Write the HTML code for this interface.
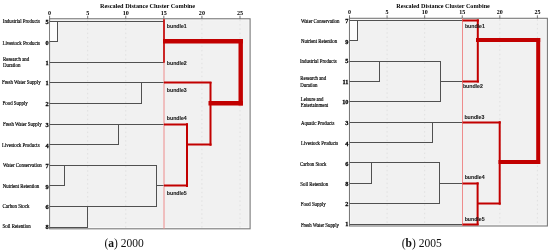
<!DOCTYPE html>
<html><head><meta charset="utf-8"><style>
html,body{margin:0;padding:0;background:#fff;width:550px;height:252px;overflow:hidden}
svg{display:block}
svg{will-change:transform}
</style></head><body>
<svg width="550" height="252" viewBox="0 0 550 252">
<defs><clipPath id="cl"><rect x="44.9" y="0" width="10" height="252"/></clipPath><clipPath id="cr"><rect x="300" y="0" width="60" height="252"/></clipPath></defs>
<rect x="49.6" y="18.75" width="200.5" height="210.05" fill="#f1f1f1"/>
<rect x="50.6" y="19.75" width="198.5" height="208.05" fill="none" stroke="#fbfbfb" stroke-width="1"/>
<line x1="87.68" y1="19.75" x2="87.68" y2="227.8" stroke="#e0e0e0" stroke-width="1" stroke-dasharray="1.5,2.8"/>
<line x1="125.76" y1="19.75" x2="125.76" y2="227.8" stroke="#e0e0e0" stroke-width="1" stroke-dasharray="1.5,2.8"/>
<line x1="201.92" y1="19.75" x2="201.92" y2="227.8" stroke="#e0e0e0" stroke-width="1" stroke-dasharray="1.5,2.8"/>
<line x1="240.00" y1="19.75" x2="240.00" y2="227.8" stroke="#e0e0e0" stroke-width="1" stroke-dasharray="1.5,2.8"/>
<rect x="49.6" y="18.75" width="200.5" height="210.05" fill="none" stroke="#7a7a7a" stroke-width="1.1"/>
<line x1="49.60" y1="15.75" x2="49.60" y2="18.75" stroke="#505050" stroke-width="0.8"/>
<text x="49.60" y="14.90" font-family="Liberation Serif" font-size="6.1" font-weight="bold" text-anchor="middle" fill="#000">0</text>
<line x1="87.68" y1="15.75" x2="87.68" y2="18.75" stroke="#505050" stroke-width="0.8"/>
<text x="87.68" y="14.90" font-family="Liberation Serif" font-size="6.1" font-weight="bold" text-anchor="middle" fill="#000">5</text>
<line x1="125.76" y1="15.75" x2="125.76" y2="18.75" stroke="#505050" stroke-width="0.8"/>
<text x="125.76" y="14.90" font-family="Liberation Serif" font-size="6.1" font-weight="bold" text-anchor="middle" fill="#000">10</text>
<line x1="163.84" y1="15.75" x2="163.84" y2="18.75" stroke="#505050" stroke-width="0.8"/>
<text x="163.84" y="14.90" font-family="Liberation Serif" font-size="6.1" font-weight="bold" text-anchor="middle" fill="#000">15</text>
<line x1="201.92" y1="15.75" x2="201.92" y2="18.75" stroke="#505050" stroke-width="0.8"/>
<text x="201.92" y="14.90" font-family="Liberation Serif" font-size="6.1" font-weight="bold" text-anchor="middle" fill="#000">20</text>
<line x1="240.00" y1="15.75" x2="240.00" y2="18.75" stroke="#505050" stroke-width="0.8"/>
<text x="240.00" y="14.90" font-family="Liberation Serif" font-size="6.1" font-weight="bold" text-anchor="middle" fill="#000">25</text>
<text transform="translate(100.00,7.75) scale(1,1.08)" font-family="Liberation Serif" font-size="6.25" font-weight="bold" text-anchor="start" fill="#000">Rescaled Distance Cluster Combine</text>
<text transform="translate(2.80,23.10) scale(1,1.12)" font-family="Liberation Serif" font-size="4.9" font-weight="normal" text-anchor="start" fill="#000" stroke="#000" stroke-width="0.15">Industrial Products</text>
<g clip-path="url(#cl)"><text transform="translate(48.70,23.60) scale(1,1.06)" font-family="Liberation Serif" font-size="6.3" font-weight="bold" text-anchor="end" fill="#000" stroke="#000" stroke-width="0.25">5</text></g>
<text transform="translate(2.40,45.00) scale(1,1.12)" font-family="Liberation Serif" font-size="4.9" font-weight="normal" text-anchor="start" fill="#000" stroke="#000" stroke-width="0.15">Livestock Products</text>
<g clip-path="url(#cl)"><text transform="translate(48.70,44.50) scale(1,1.06)" font-family="Liberation Serif" font-size="6.3" font-weight="bold" text-anchor="end" fill="#000" stroke="#000" stroke-width="0.25">0</text></g>
<text transform="translate(3.00,60.80) scale(1,1.12)" font-family="Liberation Serif" font-size="4.9" font-weight="normal" text-anchor="start" fill="#000" stroke="#000" stroke-width="0.15">Research and</text>
<text transform="translate(3.00,66.80) scale(1,1.12)" font-family="Liberation Serif" font-size="4.9" font-weight="normal" text-anchor="start" fill="#000" stroke="#000" stroke-width="0.15">Duration</text>
<g clip-path="url(#cl)"><text transform="translate(48.70,64.70) scale(1,1.06)" font-family="Liberation Serif" font-size="6.3" font-weight="bold" text-anchor="end" fill="#000" stroke="#000" stroke-width="0.25">1</text></g>
<text transform="translate(2.00,84.40) scale(1,1.12)" font-family="Liberation Serif" font-size="4.9" font-weight="normal" text-anchor="start" fill="#000" stroke="#000" stroke-width="0.15">Fresh Water Supply</text>
<g clip-path="url(#cl)"><text transform="translate(48.70,85.10) scale(1,1.06)" font-family="Liberation Serif" font-size="6.3" font-weight="bold" text-anchor="end" fill="#000" stroke="#000" stroke-width="0.25">1</text></g>
<text transform="translate(2.60,105.00) scale(1,1.12)" font-family="Liberation Serif" font-size="4.9" font-weight="normal" text-anchor="start" fill="#000" stroke="#000" stroke-width="0.15">Food Supply</text>
<g clip-path="url(#cl)"><text transform="translate(48.70,106.00) scale(1,1.06)" font-family="Liberation Serif" font-size="6.3" font-weight="bold" text-anchor="end" fill="#000" stroke="#000" stroke-width="0.25">2</text></g>
<text transform="translate(3.00,126.40) scale(1,1.12)" font-family="Liberation Serif" font-size="4.9" font-weight="normal" text-anchor="start" fill="#000" stroke="#000" stroke-width="0.15">Fresh Water Supply</text>
<g clip-path="url(#cl)"><text transform="translate(48.70,126.80) scale(1,1.06)" font-family="Liberation Serif" font-size="6.3" font-weight="bold" text-anchor="end" fill="#000" stroke="#000" stroke-width="0.25">3</text></g>
<text transform="translate(2.00,147.10) scale(1,1.12)" font-family="Liberation Serif" font-size="4.9" font-weight="normal" text-anchor="start" fill="#000" stroke="#000" stroke-width="0.15">Livestock Products</text>
<g clip-path="url(#cl)"><text transform="translate(48.70,147.50) scale(1,1.06)" font-family="Liberation Serif" font-size="6.3" font-weight="bold" text-anchor="end" fill="#000" stroke="#000" stroke-width="0.25">4</text></g>
<text transform="translate(3.00,167.10) scale(1,1.12)" font-family="Liberation Serif" font-size="4.9" font-weight="normal" text-anchor="start" fill="#000" stroke="#000" stroke-width="0.15">Water Conservation</text>
<g clip-path="url(#cl)"><text transform="translate(48.70,167.80) scale(1,1.06)" font-family="Liberation Serif" font-size="6.3" font-weight="bold" text-anchor="end" fill="#000" stroke="#000" stroke-width="0.25">7</text></g>
<text transform="translate(2.80,188.10) scale(1,1.12)" font-family="Liberation Serif" font-size="4.9" font-weight="normal" text-anchor="start" fill="#000" stroke="#000" stroke-width="0.15">Nutrient Retention</text>
<g clip-path="url(#cl)"><text transform="translate(48.70,188.50) scale(1,1.06)" font-family="Liberation Serif" font-size="6.3" font-weight="bold" text-anchor="end" fill="#000" stroke="#000" stroke-width="0.25">9</text></g>
<text transform="translate(2.60,207.60) scale(1,1.12)" font-family="Liberation Serif" font-size="4.9" font-weight="normal" text-anchor="start" fill="#000" stroke="#000" stroke-width="0.15">Carbon Stock</text>
<g clip-path="url(#cl)"><text transform="translate(48.70,209.20) scale(1,1.06)" font-family="Liberation Serif" font-size="6.3" font-weight="bold" text-anchor="end" fill="#000" stroke="#000" stroke-width="0.25">6</text></g>
<text transform="translate(2.60,227.70) scale(1,1.12)" font-family="Liberation Serif" font-size="4.9" font-weight="normal" text-anchor="start" fill="#000" stroke="#000" stroke-width="0.15">Soil Retention</text>
<g clip-path="url(#cl)"><text transform="translate(48.70,229.40) scale(1,1.06)" font-family="Liberation Serif" font-size="6.3" font-weight="bold" text-anchor="end" fill="#000" stroke="#000" stroke-width="0.25">8</text></g>
<rect x="50.1" y="21.15" width="7.100000000000001" height="20.6" fill="#fcfcfc"/>
<line x1="49.60" y1="21.50" x2="164.00" y2="21.50" stroke="#505050" stroke-width="1"/>
<line x1="49.60" y1="41.50" x2="57.20" y2="41.50" stroke="#505050" stroke-width="1"/>
<line x1="57.50" y1="21.00" x2="57.50" y2="42.00" stroke="#505050" stroke-width="1"/>
<line x1="49.60" y1="62.50" x2="164.00" y2="62.50" stroke="#505050" stroke-width="1"/>
<line x1="49.60" y1="82.50" x2="164.00" y2="82.50" stroke="#505050" stroke-width="1"/>
<line x1="49.60" y1="103.50" x2="141.10" y2="103.50" stroke="#505050" stroke-width="1"/>
<line x1="141.50" y1="82.00" x2="141.50" y2="104.00" stroke="#505050" stroke-width="1"/>
<line x1="49.60" y1="124.50" x2="164.00" y2="124.50" stroke="#505050" stroke-width="1"/>
<line x1="49.60" y1="144.50" x2="118.20" y2="144.50" stroke="#505050" stroke-width="1"/>
<line x1="118.50" y1="124.00" x2="118.50" y2="145.00" stroke="#505050" stroke-width="1"/>
<line x1="49.60" y1="165.50" x2="156.30" y2="165.50" stroke="#505050" stroke-width="1"/>
<line x1="49.60" y1="185.50" x2="64.80" y2="185.50" stroke="#505050" stroke-width="1"/>
<line x1="64.50" y1="165.00" x2="64.50" y2="186.00" stroke="#505050" stroke-width="1"/>
<line x1="49.60" y1="206.50" x2="156.30" y2="206.50" stroke="#505050" stroke-width="1"/>
<line x1="49.60" y1="227.50" x2="87.40" y2="227.50" stroke="#505050" stroke-width="1"/>
<line x1="87.50" y1="206.00" x2="87.50" y2="228.00" stroke="#505050" stroke-width="1"/>
<line x1="156.50" y1="165.00" x2="156.50" y2="207.00" stroke="#505050" stroke-width="1"/>
<line x1="156.30" y1="185.50" x2="164.00" y2="185.50" stroke="#505050" stroke-width="1"/>
<line x1="164.00" y1="18.75" x2="164.00" y2="228.80" stroke="#ee8c8c" stroke-width="1"/>
<line x1="164.00" y1="19.30" x2="164.00" y2="62.85" stroke="#c20000" stroke-width="1.6"/>
<line x1="163.00" y1="41.30" x2="242.90" y2="41.30" stroke="#c20000" stroke-width="4.4"/>
<line x1="240.70" y1="39.10" x2="240.70" y2="105.40" stroke="#c20000" stroke-width="4.4"/>
<line x1="208.50" y1="103.20" x2="242.90" y2="103.20" stroke="#c20000" stroke-width="4.4"/>
<line x1="164.00" y1="82.50" x2="211.50" y2="82.50" stroke="#c20000" stroke-width="2"/>
<line x1="210.50" y1="81.95" x2="210.50" y2="145.75" stroke="#c20000" stroke-width="2"/>
<line x1="164.00" y1="124.50" x2="188.00" y2="124.50" stroke="#c20000" stroke-width="2"/>
<line x1="187.00" y1="123.15" x2="187.00" y2="186.95" stroke="#c20000" stroke-width="2"/>
<line x1="164.00" y1="185.50" x2="188.00" y2="185.50" stroke="#c20000" stroke-width="2"/>
<line x1="187.00" y1="144.50" x2="211.50" y2="144.50" stroke="#c20000" stroke-width="2"/>
<text transform="translate(166.80,27.60) scale(1,1.06)" font-family="Liberation Sans" font-size="5.2" font-weight="bold" text-anchor="start" fill="#1a1a1a" stroke="#1a1a1a" stroke-width="0.08">bundle1</text>
<text transform="translate(166.80,64.60) scale(1,1.06)" font-family="Liberation Sans" font-size="5.2" font-weight="bold" text-anchor="start" fill="#1a1a1a" stroke="#1a1a1a" stroke-width="0.08">bundle2</text>
<text transform="translate(166.80,91.60) scale(1,1.06)" font-family="Liberation Sans" font-size="5.2" font-weight="bold" text-anchor="start" fill="#1a1a1a" stroke="#1a1a1a" stroke-width="0.08">bundle3</text>
<text transform="translate(166.80,119.60) scale(1,1.06)" font-family="Liberation Sans" font-size="5.2" font-weight="bold" text-anchor="start" fill="#1a1a1a" stroke="#1a1a1a" stroke-width="0.08">bundle4</text>
<text transform="translate(166.80,194.80) scale(1,1.06)" font-family="Liberation Sans" font-size="5.2" font-weight="bold" text-anchor="start" fill="#1a1a1a" stroke="#1a1a1a" stroke-width="0.08">bundle5</text>
<rect x="349.5" y="18.3" width="197.89999999999998" height="207.7" fill="#f1f1f1"/>
<rect x="350.5" y="19.3" width="195.89999999999998" height="205.7" fill="none" stroke="#fbfbfb" stroke-width="1"/>
<line x1="387.08" y1="19.3" x2="387.08" y2="225" stroke="#e0e0e0" stroke-width="1" stroke-dasharray="1.5,2.8"/>
<line x1="424.66" y1="19.3" x2="424.66" y2="225" stroke="#e0e0e0" stroke-width="1" stroke-dasharray="1.5,2.8"/>
<line x1="499.82" y1="19.3" x2="499.82" y2="225" stroke="#e0e0e0" stroke-width="1" stroke-dasharray="1.5,2.8"/>
<line x1="537.40" y1="19.3" x2="537.40" y2="225" stroke="#e0e0e0" stroke-width="1" stroke-dasharray="1.5,2.8"/>
<rect x="349.5" y="18.3" width="197.89999999999998" height="207.7" fill="none" stroke="#7a7a7a" stroke-width="1.1"/>
<line x1="349.50" y1="15.30" x2="349.50" y2="18.30" stroke="#505050" stroke-width="0.8"/>
<text x="349.50" y="13.90" font-family="Liberation Serif" font-size="6.0" font-weight="bold" text-anchor="middle" fill="#000">0</text>
<line x1="387.08" y1="15.30" x2="387.08" y2="18.30" stroke="#505050" stroke-width="0.8"/>
<text x="387.08" y="13.90" font-family="Liberation Serif" font-size="6.0" font-weight="bold" text-anchor="middle" fill="#000">5</text>
<line x1="424.66" y1="15.30" x2="424.66" y2="18.30" stroke="#505050" stroke-width="0.8"/>
<text x="424.66" y="13.90" font-family="Liberation Serif" font-size="6.0" font-weight="bold" text-anchor="middle" fill="#000">10</text>
<line x1="462.24" y1="15.30" x2="462.24" y2="18.30" stroke="#505050" stroke-width="0.8"/>
<text x="462.24" y="13.90" font-family="Liberation Serif" font-size="6.0" font-weight="bold" text-anchor="middle" fill="#000">15</text>
<line x1="499.82" y1="15.30" x2="499.82" y2="18.30" stroke="#505050" stroke-width="0.8"/>
<text x="499.82" y="13.90" font-family="Liberation Serif" font-size="6.0" font-weight="bold" text-anchor="middle" fill="#000">20</text>
<line x1="537.40" y1="15.30" x2="537.40" y2="18.30" stroke="#505050" stroke-width="0.8"/>
<text x="537.40" y="13.90" font-family="Liberation Serif" font-size="6.0" font-weight="bold" text-anchor="middle" fill="#000">25</text>
<text transform="translate(396.30,7.70) scale(1,1.1)" font-family="Liberation Serif" font-size="6.15" font-weight="bold" text-anchor="start" fill="#000">Rescaled Distance Cluster Combine</text>
<text transform="translate(301.00,23.10) scale(1,1.12)" font-family="Liberation Serif" font-size="4.85" font-weight="normal" text-anchor="start" fill="#000" stroke="#000" stroke-width="0.15">Water Conservation</text>
<g clip-path="url(#cr)"><text transform="translate(348.50,23.10) scale(1,1.06)" font-family="Liberation Serif" font-size="6.3" font-weight="bold" text-anchor="end" fill="#000" stroke="#000" stroke-width="0.25">7</text></g>
<text transform="translate(301.00,43.00) scale(1,1.12)" font-family="Liberation Serif" font-size="4.85" font-weight="normal" text-anchor="start" fill="#000" stroke="#000" stroke-width="0.15">Nutrient Retention</text>
<g clip-path="url(#cr)"><text transform="translate(348.50,43.60) scale(1,1.06)" font-family="Liberation Serif" font-size="6.3" font-weight="bold" text-anchor="end" fill="#000" stroke="#000" stroke-width="0.25">9</text></g>
<text transform="translate(300.00,63.00) scale(1,1.12)" font-family="Liberation Serif" font-size="4.85" font-weight="normal" text-anchor="start" fill="#000" stroke="#000" stroke-width="0.15">Industrial Products</text>
<g clip-path="url(#cr)"><text transform="translate(348.50,63.30) scale(1,1.06)" font-family="Liberation Serif" font-size="6.3" font-weight="bold" text-anchor="end" fill="#000" stroke="#000" stroke-width="0.25">5</text></g>
<text transform="translate(300.30,80.40) scale(1,1.12)" font-family="Liberation Serif" font-size="4.85" font-weight="normal" text-anchor="start" fill="#000" stroke="#000" stroke-width="0.15">Research and</text>
<text transform="translate(300.30,86.70) scale(1,1.12)" font-family="Liberation Serif" font-size="4.85" font-weight="normal" text-anchor="start" fill="#000" stroke="#000" stroke-width="0.15">Duration</text>
<g clip-path="url(#cr)"><text transform="translate(348.50,83.60) scale(1,1.06)" font-family="Liberation Serif" font-size="6.3" font-weight="bold" text-anchor="end" fill="#000" stroke="#000" stroke-width="0.25">11</text></g>
<text transform="translate(300.80,101.10) scale(1,1.12)" font-family="Liberation Serif" font-size="4.85" font-weight="normal" text-anchor="start" fill="#000" stroke="#000" stroke-width="0.15">Leisure and</text>
<text transform="translate(300.80,107.30) scale(1,1.12)" font-family="Liberation Serif" font-size="4.85" font-weight="normal" text-anchor="start" fill="#000" stroke="#000" stroke-width="0.15">Entertainment</text>
<g clip-path="url(#cr)"><text transform="translate(348.50,103.90) scale(1,1.06)" font-family="Liberation Serif" font-size="6.3" font-weight="bold" text-anchor="end" fill="#000" stroke="#000" stroke-width="0.25">10</text></g>
<text transform="translate(301.00,124.70) scale(1,1.12)" font-family="Liberation Serif" font-size="4.85" font-weight="normal" text-anchor="start" fill="#000" stroke="#000" stroke-width="0.15">Aquatic Products</text>
<g clip-path="url(#cr)"><text transform="translate(348.50,124.90) scale(1,1.06)" font-family="Liberation Serif" font-size="6.3" font-weight="bold" text-anchor="end" fill="#000" stroke="#000" stroke-width="0.25">3</text></g>
<text transform="translate(301.00,145.40) scale(1,1.12)" font-family="Liberation Serif" font-size="4.85" font-weight="normal" text-anchor="start" fill="#000" stroke="#000" stroke-width="0.15">Livestock Products</text>
<g clip-path="url(#cr)"><text transform="translate(348.50,145.60) scale(1,1.06)" font-family="Liberation Serif" font-size="6.3" font-weight="bold" text-anchor="end" fill="#000" stroke="#000" stroke-width="0.25">4</text></g>
<text transform="translate(300.00,165.50) scale(1,1.12)" font-family="Liberation Serif" font-size="4.85" font-weight="normal" text-anchor="start" fill="#000" stroke="#000" stroke-width="0.15">Carbon Stock</text>
<g clip-path="url(#cr)"><text transform="translate(348.50,165.60) scale(1,1.06)" font-family="Liberation Serif" font-size="6.3" font-weight="bold" text-anchor="end" fill="#000" stroke="#000" stroke-width="0.25">6</text></g>
<text transform="translate(300.30,185.60) scale(1,1.12)" font-family="Liberation Serif" font-size="4.85" font-weight="normal" text-anchor="start" fill="#000" stroke="#000" stroke-width="0.15">Soil Retention</text>
<g clip-path="url(#cr)"><text transform="translate(348.50,185.90) scale(1,1.06)" font-family="Liberation Serif" font-size="6.3" font-weight="bold" text-anchor="end" fill="#000" stroke="#000" stroke-width="0.25">8</text></g>
<text transform="translate(300.80,205.90) scale(1,1.12)" font-family="Liberation Serif" font-size="4.85" font-weight="normal" text-anchor="start" fill="#000" stroke="#000" stroke-width="0.15">Food Supply</text>
<g clip-path="url(#cr)"><text transform="translate(348.50,205.90) scale(1,1.06)" font-family="Liberation Serif" font-size="6.3" font-weight="bold" text-anchor="end" fill="#000" stroke="#000" stroke-width="0.25">2</text></g>
<text transform="translate(300.90,226.90) scale(1,1.12)" font-family="Liberation Serif" font-size="4.85" font-weight="normal" text-anchor="start" fill="#000" stroke="#000" stroke-width="0.15">Fresh Water Supply</text>
<g clip-path="url(#cr)"><text transform="translate(348.50,225.90) scale(1,1.06)" font-family="Liberation Serif" font-size="6.3" font-weight="bold" text-anchor="end" fill="#000" stroke="#000" stroke-width="0.25">1</text></g>
<rect x="350" y="20.35" width="7" height="20.369999999999997" fill="#fcfcfc"/>
<line x1="349.50" y1="20.50" x2="462.50" y2="20.50" stroke="#505050" stroke-width="1"/>
<line x1="349.50" y1="40.50" x2="357.00" y2="40.50" stroke="#505050" stroke-width="1"/>
<line x1="357.50" y1="20.00" x2="357.50" y2="41.00" stroke="#505050" stroke-width="1"/>
<line x1="349.50" y1="61.50" x2="440.00" y2="61.50" stroke="#505050" stroke-width="1"/>
<line x1="349.50" y1="81.50" x2="379.50" y2="81.50" stroke="#505050" stroke-width="1"/>
<line x1="379.50" y1="61.00" x2="379.50" y2="82.00" stroke="#505050" stroke-width="1"/>
<line x1="349.50" y1="101.50" x2="440.00" y2="101.50" stroke="#505050" stroke-width="1"/>
<line x1="440.50" y1="61.00" x2="440.50" y2="102.00" stroke="#505050" stroke-width="1"/>
<line x1="440.00" y1="81.50" x2="462.50" y2="81.50" stroke="#505050" stroke-width="1"/>
<line x1="349.50" y1="122.50" x2="462.50" y2="122.50" stroke="#505050" stroke-width="1"/>
<line x1="349.50" y1="142.50" x2="432.40" y2="142.50" stroke="#505050" stroke-width="1"/>
<line x1="432.50" y1="122.00" x2="432.50" y2="143.00" stroke="#505050" stroke-width="1"/>
<line x1="349.50" y1="162.50" x2="439.10" y2="162.50" stroke="#505050" stroke-width="1"/>
<line x1="349.50" y1="183.50" x2="371.80" y2="183.50" stroke="#505050" stroke-width="1"/>
<line x1="371.50" y1="162.00" x2="371.50" y2="184.00" stroke="#505050" stroke-width="1"/>
<line x1="349.50" y1="203.50" x2="439.10" y2="203.50" stroke="#505050" stroke-width="1"/>
<line x1="439.50" y1="162.00" x2="439.50" y2="204.00" stroke="#505050" stroke-width="1"/>
<line x1="439.10" y1="183.50" x2="462.50" y2="183.50" stroke="#505050" stroke-width="1"/>
<line x1="349.50" y1="224.50" x2="462.50" y2="224.50" stroke="#505050" stroke-width="1"/>
<line x1="462.50" y1="18.30" x2="462.50" y2="226.00" stroke="#ee8c8c" stroke-width="1"/>
<line x1="462.50" y1="20.50" x2="479.00" y2="20.50" stroke="#c20000" stroke-width="2"/>
<line x1="477.80" y1="19.35" x2="477.80" y2="82.46" stroke="#c20000" stroke-width="2"/>
<line x1="462.50" y1="81.50" x2="479.00" y2="81.50" stroke="#c20000" stroke-width="2"/>
<line x1="476.00" y1="40.00" x2="540.20" y2="40.00" stroke="#c20000" stroke-width="4.0"/>
<line x1="538.20" y1="38.00" x2="538.20" y2="164.00" stroke="#c20000" stroke-width="4.0"/>
<line x1="498.50" y1="162.00" x2="540.20" y2="162.00" stroke="#c20000" stroke-width="4.0"/>
<line x1="462.50" y1="122.50" x2="500.70" y2="122.50" stroke="#c20000" stroke-width="2"/>
<line x1="499.70" y1="121.20" x2="499.70" y2="204.68" stroke="#c20000" stroke-width="2"/>
<line x1="477.60" y1="203.50" x2="500.70" y2="203.50" stroke="#c20000" stroke-width="2"/>
<line x1="462.50" y1="183.50" x2="478.60" y2="183.50" stroke="#c20000" stroke-width="2"/>
<line x1="477.60" y1="182.31" x2="477.60" y2="225.05" stroke="#c20000" stroke-width="2"/>
<line x1="462.50" y1="224.50" x2="478.60" y2="224.50" stroke="#c20000" stroke-width="2"/>
<text transform="translate(464.90,28.30) scale(1,1.06)" font-family="Liberation Sans" font-size="5.2" font-weight="bold" text-anchor="start" fill="#1a1a1a" stroke="#1a1a1a" stroke-width="0.08">bundle1</text>
<text transform="translate(462.90,88.40) scale(1,1.06)" font-family="Liberation Sans" font-size="5.2" font-weight="bold" text-anchor="start" fill="#1a1a1a" stroke="#1a1a1a" stroke-width="0.08">bundle2</text>
<text transform="translate(464.40,119.00) scale(1,1.06)" font-family="Liberation Sans" font-size="5.2" font-weight="bold" text-anchor="start" fill="#1a1a1a" stroke="#1a1a1a" stroke-width="0.08">bundle3</text>
<text transform="translate(464.70,179.00) scale(1,1.06)" font-family="Liberation Sans" font-size="5.2" font-weight="bold" text-anchor="start" fill="#1a1a1a" stroke="#1a1a1a" stroke-width="0.08">bundle4</text>
<text transform="translate(464.70,220.80) scale(1,1.06)" font-family="Liberation Sans" font-size="5.2" font-weight="bold" text-anchor="start" fill="#1a1a1a" stroke="#1a1a1a" stroke-width="0.08">bundle5</text>
<text x="104.5" y="246.6" font-family="Liberation Serif" font-size="11.5" fill="#111">(<tspan font-weight="bold">a</tspan>) 2000</text>
<text x="401.7" y="246.6" font-family="Liberation Serif" font-size="11.5" fill="#111">(<tspan font-weight="bold">b</tspan>) 2005</text>
</svg>
</body></html>
